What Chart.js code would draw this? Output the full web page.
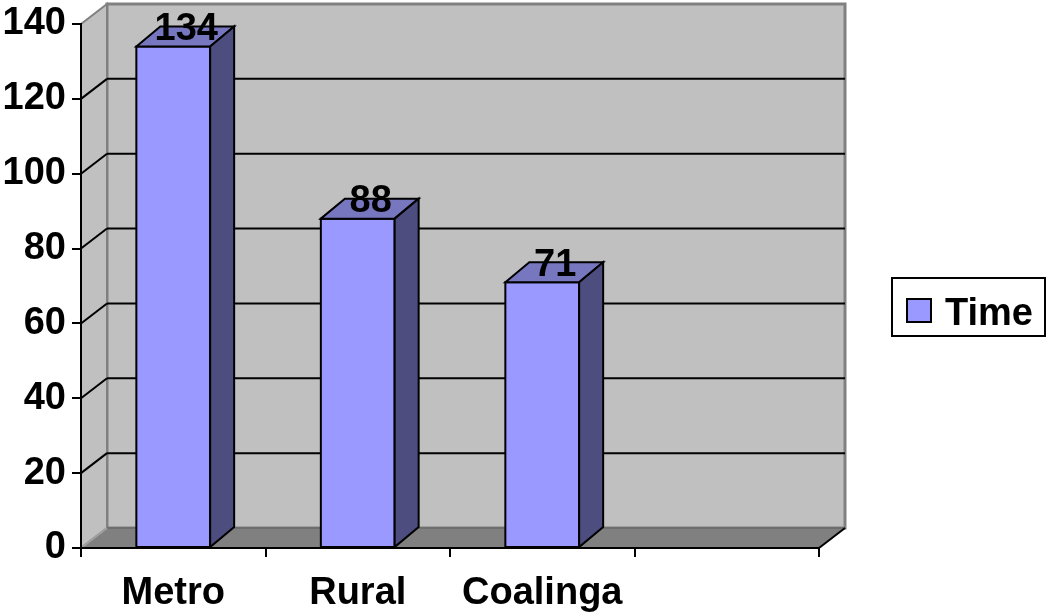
<!DOCTYPE html>
<html>
<head>
<meta charset="utf-8">
<title>Time</title>
<style>
  html, body { margin: 0; padding: 0; background: #fff; }
  canvas { display: block; }
</style>
<script src="https://cdn.jsdelivr.net/npm/chart.js@4/dist/chart.umd.min.js"></script>
</head>
<body>
<canvas id="chartTime" width="1046" height="612"></canvas>
<script>
const categories = ['Metro', 'Rural', 'Coalinga', ''];
const timeValues = [134, 88, 71, null];
const seriesName = 'Time';

const FONT = 'bold 38px "Liberation Sans"';
const DEPTH_WALL = { x: 26, y: -20 };
const DEPTH_BAR = { x: 24, y: -20 };

function poly(ctx, pts, fill, stroke, width) {
  ctx.beginPath();
  pts.forEach((p, i) => (i ? ctx.lineTo(p[0], p[1]) : ctx.moveTo(p[0], p[1])));
  ctx.closePath();
  if (fill) { ctx.fillStyle = fill; ctx.fill(); }
  if (stroke) { ctx.strokeStyle = stroke; ctx.lineWidth = width; ctx.lineJoin = 'miter'; ctx.stroke(); }
}

function seg(ctx, x1, y1, x2, y2, color, width) {
  ctx.beginPath();
  ctx.moveTo(x1, y1);
  ctx.lineTo(x2, y2);
  ctx.strokeStyle = color;
  ctx.lineWidth = width;
  ctx.stroke();
}

// Walls, floor and gridlines of the 3D box, placed from the y scale
const wallsPlugin = {
  id: 'walls',
  beforeDraw(chart) {
    const { ctx, chartArea: a, scales } = chart;
    const d = DEPTH_WALL;
    const y = scales.y;
    ctx.save();
    poly(ctx, [[a.left + d.x, a.top + d.y], [a.right + d.x, a.top + d.y], [a.right + d.x, a.bottom + d.y], [a.left + d.x, a.bottom + d.y]], '#c0c0c0', '#808080', 3);
    poly(ctx, [[a.left, a.top], [a.left + d.x, a.top + d.y], [a.left + d.x, a.bottom + d.y], [a.left, a.bottom]], '#c0c0c0', '#808080', 2);
    poly(ctx, [[a.left, a.bottom], [a.left + d.x, a.bottom + d.y], [a.right + d.x, a.bottom + d.y], [a.right, a.bottom]], '#808080', null);
    seg(ctx, a.left + d.x, a.bottom + d.y, a.right + d.x, a.bottom + d.y, '#6e6e6e', 2);
    seg(ctx, a.left, a.bottom, a.left + d.x, a.bottom + d.y, '#a0a0a0', 2);
    seg(ctx, a.right, a.bottom, a.right + d.x, a.bottom + d.y, '#000', 2);
    y.ticks.forEach((t) => {
      if (t.value === y.min || t.value === y.max) return;
      const py = y.getPixelForValue(t.value);
      seg(ctx, a.left, py, a.left + d.x, py + d.y, '#000', 2);
      seg(ctx, a.left + d.x, py + d.y, a.right + d.x, py + d.y, '#000', 2);
    });
    ctx.restore();
  }
};

// Outlines, top and side faces of the bars, then value labels and the legend
const barsPlugin = {
  id: 'bars3d',
  afterDatasetsDraw(chart) {
    const { ctx } = chart;
    const d = DEPTH_BAR;
    const meta = chart.getDatasetMeta(0);
    ctx.save();
    meta.data.forEach((bar, i) => {
      if (timeValues[i] == null) return;
      const l = bar.x - bar.width / 2;
      const r = bar.x + bar.width / 2;
      poly(ctx, [[l, bar.y], [r, bar.y], [r, bar.base], [l, bar.base]], null, '#000', 2);
      poly(ctx, [[l, bar.y], [l + d.x, bar.y + d.y], [r + d.x, bar.y + d.y], [r, bar.y]], '#7777c0', '#000', 2);
      poly(ctx, [[r, bar.y], [r + d.x, bar.y + d.y], [r + d.x, bar.base + d.y], [r, bar.base]], '#4d4d80', '#000', 2);
    });
    ctx.font = FONT;
    ctx.fillStyle = '#000';
    ctx.textAlign = 'center';
    ctx.textBaseline = 'middle';
    meta.data.forEach((bar, i) => {
      if (timeValues[i] == null) return;
      ctx.fillText(String(timeValues[i]), bar.x + 13, bar.y - 17);
    });
    // legend
    poly(ctx, [[892, 278], [1045, 278], [1045, 336], [892, 336]], '#fff', '#000', 2);
    poly(ctx, [[907, 299], [931, 299], [931, 322], [907, 322]], chart.data.datasets[0].backgroundColor, '#000', 2);
    ctx.textAlign = 'left';
    ctx.textBaseline = 'alphabetic';
    ctx.fillStyle = '#000';
    ctx.fillText(seriesName, 945, 325);
    ctx.restore();
  }
};

new Chart(document.getElementById('chartTime'), {
  type: 'bar',
  data: {
    labels: categories,
    datasets: [{
      label: seriesName,
      data: timeValues,
      backgroundColor: '#9999ff',
      borderWidth: 0,
      categoryPercentage: 1,
      barPercentage: 0.4
    }]
  },
  options: {
    responsive: false,
    animation: false,
    layout: { padding: { left: 0, right: 227, top: 24, bottom: 0 } },
    plugins: { legend: { display: false }, tooltip: { enabled: false } },
    scales: {
      x: {
        offset: true,
        afterFit(scale) { scale.height = 64; scale.paddingLeft = 0; scale.paddingRight = 0; },
        grid: { offset: true, drawOnChartArea: false, drawTicks: true, tickLength: 9, color: '#000', lineWidth: 2 },
        border: { display: true, color: '#000', width: 2 },
        ticks: { color: '#000', font: { family: 'Liberation Sans', size: 38, weight: 'bold' }, padding: 14, maxRotation: 0, autoSkip: false }
      },
      y: {
        min: 0,
        max: 140,
        afterFit(scale) { scale.width = 81; scale.paddingTop = 0; scale.paddingBottom = 0; },
        grid: { drawOnChartArea: false, drawTicks: true, tickLength: 9, color: '#000', lineWidth: 2 },
        border: { display: true, color: '#000', width: 2 },
        ticks: { stepSize: 20, color: '#000', font: { family: 'Liberation Sans', size: 38, weight: 'bold' }, padding: 6 }
      }
    }
  },
  plugins: [wallsPlugin, barsPlugin]
});
</script>
</body>
</html>
